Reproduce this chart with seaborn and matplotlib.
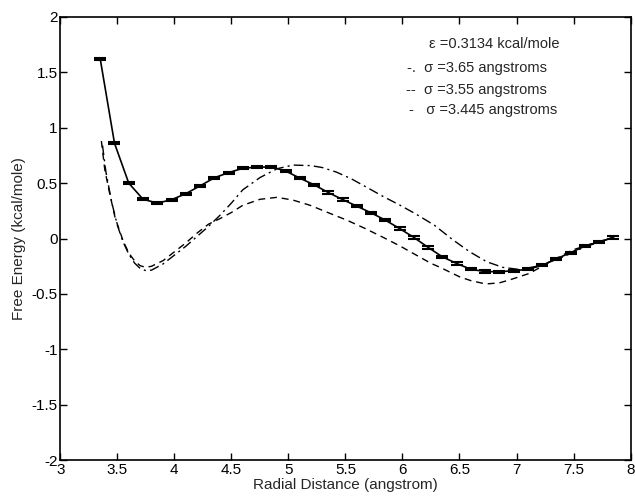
import numpy as np
import matplotlib
matplotlib.use('Agg')
import matplotlib.pyplot as plt
import seaborn as sns
import pandas as pd

# simulated free energy (sigma = 3.445) with error bars
r_sim = [3.35, 3.475, 3.60, 3.725, 3.85, 3.975, 4.10, 4.225, 4.35, 4.475,
         4.60, 4.725, 4.85, 4.975, 5.10, 5.225, 5.35, 5.475, 5.60, 5.725,
         5.85, 5.975, 6.10, 6.225, 6.35, 6.475, 6.60, 6.725, 6.85, 6.975,
         7.10, 7.225, 7.35, 7.475, 7.60, 7.725, 7.85]
g_sim = [1.62, 0.86, 0.50, 0.355, 0.32, 0.35, 0.405, 0.475, 0.548, 0.595,
         0.634, 0.645, 0.645, 0.61, 0.545, 0.485, 0.415, 0.352, 0.292, 0.232,
         0.166, 0.09, 0.01, -0.08, -0.165, -0.225, -0.278, -0.298, -0.30, -0.29,
         -0.278, -0.242, -0.183, -0.127, -0.068, -0.03, 0.01]
g_err = [0.01] * len(r_sim)

# sigma = 3.65 (dash-dot)
r_365 = [3.37, 3.40, 3.45, 3.50, 3.55, 3.60, 3.65, 3.70, 3.75, 3.80,
         3.90, 4.0, 4.1, 4.2, 4.3, 4.4, 4.5, 4.6, 4.75, 4.9,
         5.04, 5.2, 5.3, 5.42, 5.55, 5.67, 5.83, 5.98, 6.12, 6.28, 6.44,
         6.59, 6.74, 6.88, 7.03, 7.2, 7.4, 7.6, 7.85]
g_365 = [0.84, 0.60, 0.33, 0.12, -0.03, -0.14, -0.22, -0.27, -0.29, -0.285,
         -0.23, -0.15, -0.07, 0.02, 0.11, 0.21, 0.32, 0.44, 0.55, 0.63,
         0.663, 0.658, 0.64, 0.60, 0.54, 0.472, 0.38, 0.30, 0.22, 0.12, -0.01,
         -0.12, -0.21, -0.26, -0.28, -0.245, -0.17, -0.075, 0.01]

# sigma = 3.55 (dashed)
r_355 = [3.36, 3.39, 3.43, 3.48, 3.55, 3.60, 3.65, 3.70, 3.75, 3.80,
         3.90, 4.0, 4.1, 4.2, 4.3, 4.4, 4.5, 4.6, 4.75, 4.9,
         5.04, 5.19, 5.35, 5.51, 5.67, 5.83, 5.98, 6.12, 6.25, 6.33,
         6.5, 6.6, 6.73, 6.85, 6.95, 7.115, 7.32, 7.49, 7.67, 7.85]
g_355 = [0.88, 0.62, 0.42, 0.19, -0.02, -0.13, -0.20, -0.245, -0.26, -0.25,
         -0.20, -0.12, -0.04, 0.05, 0.13, 0.18, 0.235, 0.30, 0.354, 0.372,
         0.347, 0.30, 0.233, 0.167, 0.092, 0.011, -0.068, -0.149, -0.224, -0.26,
         -0.345, -0.38, -0.41, -0.40, -0.37, -0.314, -0.194, -0.104, -0.043, 0.01]

legend_lines = ["\u03b5 =0.3134 kcal/mole",
                "-.  \u03c3 =3.65 angstroms",
                "--  \u03c3 =3.55 angstroms",
                "-   \u03c3 =3.445 angstroms"]

sns.set_style("ticks")
plt.rcParams['font.family'] = ['Liberation Sans', 'DejaVu Sans']

fig, ax = plt.subplots(figsize=(6.35, 4.98), dpi=100)
fig.subplots_adjust(left=0.095, right=0.993, top=0.966, bottom=0.076)

sns.lineplot(x=r_365, y=g_365, ax=ax, color='black', lw=1.0, sort=False)
ax.lines[-1].set_linestyle((0, (7, 3, 1.5, 3)))
sns.lineplot(x=r_355, y=g_355, ax=ax, color='black', lw=1.0, sort=False)
ax.lines[-1].set_linestyle((0, (5, 3.5)))
sns.lineplot(x=r_sim, y=g_sim, ax=ax, color='black', lw=1.2, sort=False)
ax.errorbar(r_sim, g_sim, yerr=g_err, fmt='none', ecolor='black',
            elinewidth=1.0, capsize=4, capthick=1.5)

ax.set_xlim(3, 8)
ax.set_ylim(-2, 2)
ax.set_xticks(np.arange(3, 8.01, 0.5))
ax.set_xticklabels(['3', '3.5', '4', '4.5', '5', '5.5', '6', '6.5', '7', '7.5', '8'])
ax.set_yticks(np.arange(-2, 2.01, 0.5))
ax.set_yticklabels(['-2', '-1.5', '-1', '-0.5', '0', '0.5', '1', '1.5', '2'])
ax.tick_params(direction='in', length=5, width=1, top=True, right=True,
               labelsize=11, pad=2, colors='black')
for s in ax.spines.values():
    s.set_visible(True)
    s.set_linewidth(1.2)
    s.set_color('black')

ax.set_xlabel('Radial Distance (angstrom)', fontsize=11, labelpad=1)
ax.set_ylabel('Free Energy (kcal/mole)', fontsize=11, labelpad=4)

ys = [0.94, 0.885, 0.835, 0.79]
xs = [0.647, 0.608, 0.606, 0.612]
for t, xx, yy in zip(legend_lines, xs, ys):
    ax.text(xx, yy, t, transform=ax.transAxes, fontsize=10.5, va='center', ha='left')

fig.savefig('out.png', dpi=100)
